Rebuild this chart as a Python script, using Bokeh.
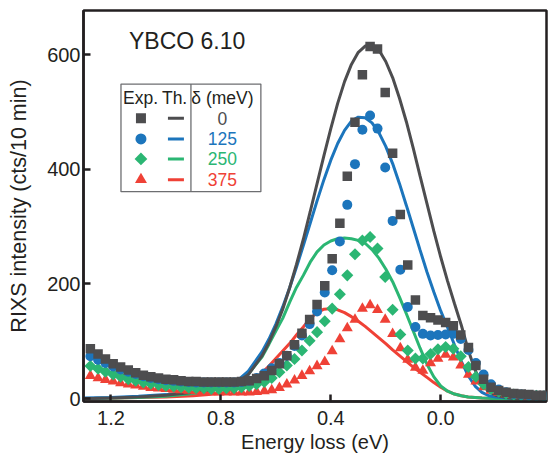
from bokeh.plotting import figure
from bokeh.models import Range1d, FixedTicker, PrintfTickFormatter, Label
from bokeh.core.properties import value
from bokeh.embed import file_html
from bokeh.resources import INLINE

# ---------------- data ----------------
energy = [1.275, 1.247, 1.220, 1.192, 1.165, 1.137, 1.110, 1.082, 1.055, 1.027, 1.000, 0.972, 0.945, 0.917,
          0.890, 0.862, 0.835, 0.807, 0.780, 0.752, 0.725, 0.697, 0.670, 0.642, 0.615, 0.587, 0.560,
          0.532, 0.505, 0.477, 0.450, 0.422, 0.395, 0.367, 0.340, 0.312, 0.285, 0.257,
          0.230, 0.202, 0.175, 0.147, 0.120, 0.092, 0.065, 0.037, 0.010,
          -0.018, -0.046, -0.073, -0.101, -0.128, -0.156, -0.183, -0.211, -0.238, -0.266, -0.293, -0.321, -0.348, -0.376]

exp_0 = [87, 78, 69, 61, 55, 50, 45, 41, 38, 36, 34, 33, 31, 30,
         30, 29, 29, 29, 29, 29, 30, 31, 35, 40, 49, 61, 75,
         94, 114, 138, 164, 197, 244, 306, 388, 482, 565, 614,
         610, 534, 428, 321, 233, 172, 145, 141, 137,
         133, 127, 111, 89, 58, 34, 20, 14, 11, 9, 8, 7, 6, 6]
exp_125 = [74, 68, 62, 56, 51, 47, 43, 39, 36, 34, 32, 31, 30, 29,
           28, 28, 28, 28, 28, 28, 29, 31, 36, 44, 53, 62, 75,
           92, 110, 130, 152, 185, 224, 274, 338, 409, 469, 494,
           471, 403, 310, 225, 160, 125, 113, 110, 111,
           112, 113, 104, 85, 62, 42, 25, 16, 11, 8, 7, 6, 5, 5]
exp_250 = [57, 52, 47, 42, 38, 34, 31, 28, 26, 24, 22, 21, 20, 19,
           18, 18, 17, 17, 18, 18, 20, 22, 25, 29, 36, 46, 58,
           69, 84, 101, 116, 135, 157, 182, 215, 252, 276, 282,
           262, 212, 155, 112, 84, 70, 70, 78, 86,
           90, 87, 74, 55, 38, 25, 17, 12, 9, 7, 6, 5, 5, 4]
exp_375 = [40, 36, 33, 30, 27, 25, 23, 21, 19, 18, 17, 16, 15, 14,
           13, 12, 12, 11, 11, 11, 11, 11, 12, 13, 15, 19, 25,
           32, 40, 48, 57, 64, 83, 104, 123, 138, 157, 163,
           155, 138, 113, 88, 68, 54, 49, 62, 70,
           77, 72, 58, 42, 30, 20, 14, 10, 8, 6, 5, 4, 4, 3]

theory_energy = [1.3, 1.2, 1.1, 1.0, 0.9, 0.8, 0.75, 0.7, 0.65, 0.625, 0.6, 0.575, 0.55, 0.525, 0.5,
                 0.475, 0.45, 0.425, 0.4, 0.375, 0.35, 0.325, 0.3, 0.275, 0.25, 0.225, 0.2, 0.175, 0.15,
                 0.125, 0.1, 0.075, 0.05, 0.025, 0.0, -0.025, -0.05, -0.075, -0.1, -0.125, -0.15, -0.175,
                 -0.2, -0.25, -0.3, -0.385]
th_0 = [0, 1, 3, 6, 11, 18, 25, 42, 75, 98, 125, 156, 193, 234, 278,
        326, 375, 424, 471, 515, 553, 583, 604, 615, 617, 608, 588, 560, 524,
        483, 437, 388, 340, 292, 247, 205, 166, 128, 85, 50, 25, 12,
        6, 1, 0, 0]
th_125 = [1, 2, 4, 7, 12, 20, 27, 48, 82, 104, 130, 160, 193, 229, 267,
          306, 345, 382, 416, 445, 468, 484, 491, 490, 481, 464, 440, 410, 375,
          337, 298, 259, 221, 186, 153, 124, 94, 65, 40, 22, 11, 5,
          3, 1, 0, 0]
th_250 = [0, 1, 2, 4, 9, 18, 28, 43, 73, 95, 118, 140, 168, 194, 215,
          238, 256, 268, 275, 279, 280, 279, 276, 271, 260, 245, 226, 204, 177,
          148, 118, 88, 60, 38, 22, 13, 8, 5, 3, 2, 1, 0.5,
          0, 0, 0, 0]
th_375 = [0, 1, 2, 3, 5, 9, 17, 27, 45, 57, 70, 83, 96, 111, 125,
          140, 150, 156, 157, 155, 150, 143, 135, 126, 116, 106, 96, 85, 75,
          65, 55, 46, 37, 28, 20, 13, 8, 5, 3, 2, 1, 0.5,
          0, 0, 0, 0]

deltas = ["0", "125", "250", "375"]
x_ticks = [1.2, 0.8, 0.4, 0.0]
y_ticks = [0, 200, 400, 600]

GRAY, BLUE, GREEN, RED = "#4d4d4f", "#1c75bc", "#2bb673", "#ef4136"
FONT = "Liberation Sans"
INK = "#231f20"

p = figure(width=549, height=461, x_range=Range1d(1.3, -0.385), y_range=Range1d(-5, 677),
           output_backend="svg", toolbar_location=None,
           min_border_left=83, min_border_right=3, min_border_top=10, min_border_bottom=60)
p.grid.visible = False
p.outline_line_color = INK
p.outline_line_width = 2.5
p.background_fill_color = "white"
p.border_fill_color = "white"

for ax in (p.xaxis[0], p.yaxis[0]):
    ax.axis_line_width = 2.5
    ax.axis_line_color = INK
    ax.major_tick_in = 7
    ax.major_tick_out = 0
    ax.major_tick_line_width = 2.5
    ax.major_tick_line_color = INK
    ax.minor_tick_line_color = None
    ax.major_label_text_font = FONT
    ax.major_label_text_font_size = "20px"
    ax.major_label_text_color = INK
    ax.axis_label_text_font = FONT
    ax.axis_label_text_font_size = "20px"
    ax.axis_label_text_font_style = "normal"
    ax.axis_label_text_color = INK

p.xaxis.ticker = FixedTicker(ticks=x_ticks)
p.xaxis.formatter = PrintfTickFormatter(format="%.1f")
p.xaxis.axis_label = "Energy loss (eV)"
p.xaxis.major_label_standoff = 9
p.xaxis.axis_label_standoff = 3
p.yaxis.ticker = FixedTicker(ticks=y_ticks)
p.yaxis.axis_label = "RIXS intensity (cts/10 min)"
p.yaxis.axis_label_text_font_size = "21.5px"
p.yaxis.major_label_standoff = 3
p.yaxis.axis_label_standoff = 13

# theory lines
for th, c in ((th_375, RED), (th_250, GREEN), (th_125, BLUE), (th_0, GRAY)):
    p.line(theory_energy, th, line_color=c, line_width=3)

# experimental points
p.scatter(energy, exp_375, marker="triangle", size=11, fill_color=RED, line_color=None)
p.scatter(energy, exp_250, marker="square", angle=0.785, size=8.5, fill_color=GREEN, line_color=None)
p.scatter(energy, exp_125, marker="circle", size=10, fill_color=BLUE, line_color=None)
p.scatter(energy, exp_0, marker="square", size=9.5, fill_color=GRAY, line_color=None)

# title label
p.add_layout(Label(x=1.1345, y=624, text="YBCO 6.10", text_font=FONT, text_font_size="23px",
                   text_color=INK, text_baseline="middle", text_align="left"))

# legend table (drawn in data space)
box_l, box_r, box_t, box_b, div_x = 1.1636, 0.6545, 548.6, 361.0, 0.909
p.quad(left=[box_l], right=[box_r], top=[box_t], bottom=[box_b], fill_color="white",
       line_color="#6d6e71", line_width=1.3)
p.segment(x0=[div_x], y0=[box_t], x1=[div_x], y1=[box_b], line_color="#6d6e71", line_width=1.3)

LEG = "17.5px"
hdr_y = 525
p.text(x=[1.1563, 1.0145], y=[hdr_y, hdr_y], text=["Exp.", "Th."], text_font=value(FONT),
       text_font_size=value(LEG), text_color=INK, text_baseline="middle", text_align="left")
p.text(x=[0.7945], y=[hdr_y], text=["δ (meV)"], text_font=value(FONT),
       text_font_size=value(LEG), text_color=INK, text_baseline="middle", text_align="center")
row_y = [489, 453, 418, 382]
cols = [GRAY, BLUE, GREEN, RED]
p.scatter([1.0909], [row_y[0]], marker="square", size=10, fill_color=GRAY, line_color=None)
p.scatter([1.0909], [row_y[1]], marker="circle", size=11, fill_color=BLUE, line_color=None)
p.scatter([1.0909], [row_y[2]], marker="square", angle=0.785, size=9, fill_color=GREEN, line_color=None)
p.scatter([1.0909], [row_y[3]], marker="triangle", size=12, fill_color=RED, line_color=None)
p.segment(x0=[0.9927] * 4, y0=row_y, x1=[0.9345] * 4, y1=row_y, line_color=cols, line_width=3)
p.text(x=[0.7945] * 4, y=row_y, text=deltas, text_font=value(FONT), text_font_size=value(LEG),
       text_color=cols, text_baseline="middle", text_align="center")

open("out.html", "w").write(file_html(p, INLINE))
